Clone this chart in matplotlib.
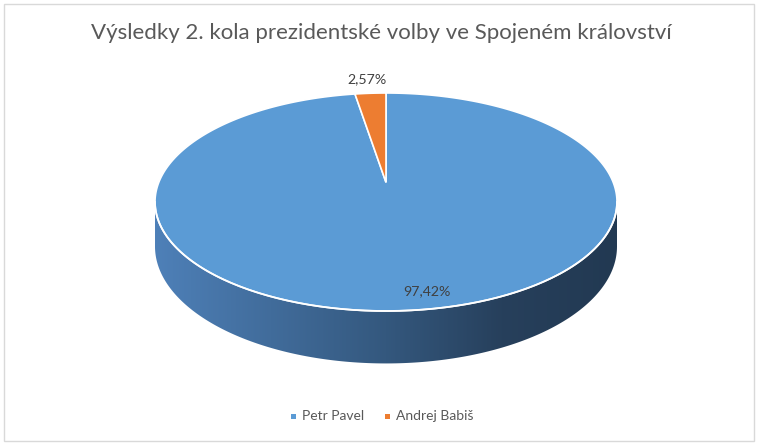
import numpy as np
import matplotlib.pyplot as plt
from matplotlib.patches import Polygon, Rectangle
from matplotlib.colors import LinearSegmentedColormap

# data
candidates = ['Petr Pavel', 'Andrej Babiš']
shares = [97.42, 2.57]
share_labels = ['97,42%', '2,57%']
colors = ['#5B9BD5', '#ED7D31']
title = 'Výsledky 2. kola prezidentské volby ve Spojeném království'

plt.rcParams['font.family'] = ['Lato', 'DejaVu Sans']

# geometry of the 3d pie (pixels)
cx, cy = 386, 202
B = 109.0
k = -0.18
A = 231.0 * np.sqrt(1 - k ** 2)
D = 43.0


def project(u, w):
    den = 1 + k * w
    return cx + A * u / den, cy + B * (w + k) / den


def rim(phi):
    return project(np.sin(phi), -np.cos(phi))


fig = plt.figure(figsize=(7.58, 4.44), dpi=100)
ax = fig.add_axes([0, 0, 1, 1])
ax.set_xlim(0, 758)
ax.set_ylim(444, 0)
ax.axis('off')

# chart border
ax.add_patch(Rectangle((4, 4), 750, 437, fc='white', ec='#D9D9D9', lw=1))

# side of the cylinder (front half)
phi1 = np.arccos(k)        # right silhouette
phi2 = 2 * np.pi - phi1    # left silhouette
ph = np.linspace(phi1, phi2, 200)
tx, ty = rim(ph)
den = 1 + k * (-np.cos(ph))
bx, by = tx, ty + D / den
side = Polygon(np.column_stack([np.r_[tx, bx[::-1]], np.r_[ty, by[::-1]]]),
               closed=True, fc='none', ec='none')
ax.add_patch(side)
cmap = LinearSegmentedColormap.from_list('side', [
    (0.0, (78 / 255, 128 / 255, 184 / 255)),
    (0.5, (52 / 255, 88 / 255, 126 / 255)),
    (0.75, (39 / 255, 64 / 255, 92 / 255)),
    (1.0, (34 / 255, 57 / 255, 82 / 255))])
grad = np.linspace(0, 1, 256).reshape(1, -1)
im = ax.imshow(grad, cmap=cmap, aspect='auto',
               extent=[tx.min(), tx.max(), by.max() + 2, ty.min() - 2], zorder=2)
im.set_clip_path(side)
ax.set_xlim(0, 758)
ax.set_ylim(444, 0)

# top faces
total = sum(shares)
start = 0.0
for val, col in zip(shares, colors):
    f0, f1 = start / total, (start + val) / total
    ang = np.linspace(2 * np.pi * f0, 2 * np.pi * f1, 300)
    px, py = rim(ang)
    c0 = project(0, 0)
    poly = np.column_stack([np.r_[c0[0], px], np.r_[c0[1], py]])
    ax.add_patch(Polygon(poly, closed=True, fc=col, ec='white', lw=1.2, zorder=3))
    start += val

# white rim line at the front edge
ax.plot(tx, ty, color='white', lw=1.3, zorder=4)

# data labels
ax.text(427, 291, share_labels[0], ha='center', va='center', fontsize=10.2,
        color='#404040', zorder=5)
ax.text(367, 79, share_labels[1], ha='center', va='center', fontsize=10.2,
        color='#404040', zorder=5)

# title
ax.text(381, 33, title, ha='center', va='center', fontsize=16, color='#595959')

# legend
leg_x = [293, 387]
for xx, name, col in zip(leg_x, candidates, colors):
    ax.add_patch(Rectangle((xx - 2.5, 413.5), 5, 5, fc=col, ec='none'))
    ax.text(xx + 9, 416, name, ha='left', va='center', fontsize=10, color='#595959')

fig.savefig('out.png', dpi=100)
